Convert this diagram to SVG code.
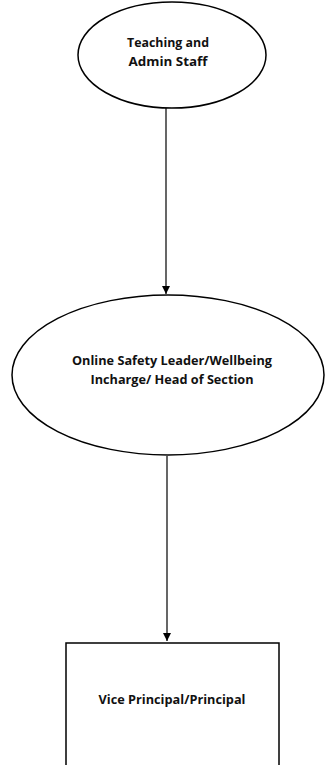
<svg xmlns="http://www.w3.org/2000/svg" width="326" height="765" viewBox="0 0 326 765">
<style>
.shape{fill:#fff;stroke:#000;stroke-width:1.5}
.lbl{font-family:"Open Sans","Noto Sans",sans-serif;font-weight:bold;font-size:11.5px;fill:#111;text-anchor:middle}
.conn{stroke:#000;stroke-width:1.2;fill:none}
</style>
<defs>
<marker id="arr" viewBox="0 0 10 10" refX="10" refY="5" markerWidth="8" markerHeight="8" markerUnits="userSpaceOnUse" orient="auto">
<path d="M0,0 L10,5 L0,10 z" fill="#000"/>
</marker>
</defs>
<rect width="326" height="765" fill="#fff"/>
<g id="connectors">
<line class="conn" x1="166" y1="108" x2="166" y2="294" marker-end="url(#arr)"/>
<line class="conn" x1="167" y1="456" x2="167" y2="641" marker-end="url(#arr)"/>
</g>
<g id="node-staff">
<ellipse class="shape" cx="172" cy="55" rx="94" ry="53"/>
<text class="lbl" x="168" y="47" textLength="82" lengthAdjust="spacingAndGlyphs">Teaching and</text>
<text class="lbl" x="168" y="66" textLength="79" lengthAdjust="spacingAndGlyphs">Admin Staff</text>
</g>
<g id="node-leader">
<ellipse class="shape" cx="168" cy="375" rx="156" ry="80"/>
<text class="lbl" x="172" y="365" textLength="200" lengthAdjust="spacingAndGlyphs">Online Safety Leader/Wellbeing</text>
<text class="lbl" x="172" y="384" textLength="163" lengthAdjust="spacingAndGlyphs">Incharge/ Head of Section</text>
</g>
<g id="node-principal">
<rect class="shape" x="66" y="643" width="213" height="140"/>
<text class="lbl" x="172" y="704" textLength="147" lengthAdjust="spacingAndGlyphs">Vice Principal/Principal</text>
</g>
</svg>
